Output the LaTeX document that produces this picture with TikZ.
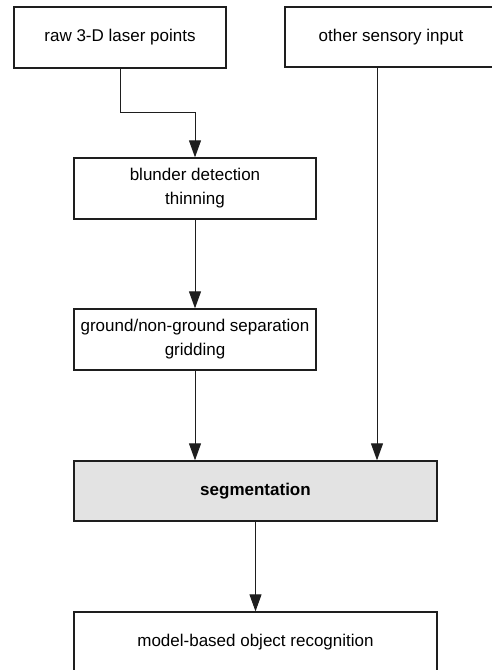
\documentclass[tikz,border=0pt]{standalone}
\usepackage{fontspec}
\setmainfont{Liberation Sans}
\usetikzlibrary{arrows.meta}
\definecolor{segfill}{HTML}{E3E3E3}
\definecolor{edge}{HTML}{1E1E1E}
\tikzset{
  box/.style={draw=edge, line width=1.3pt, rectangle, inner sep=0pt, align=center,
    font=\fontsize{17}{24}\selectfont},
  conn/.style={draw=edge, line width=1pt, -{Triangle[length=17pt,width=12pt]}},
  plain/.style={draw=edge, line width=1pt}
}
\begin{document}
\begin{tikzpicture}[x=1pt,y=-1pt]
\useasboundingbox (0,0) rectangle (492,670);
\clip (0,0) rectangle (492,670);
\fill[white] (0,0) rectangle (492,670);
\node[box, minimum width=212pt, minimum height=61pt] (raw) at (120,37.5) {raw 3-D laser points};
\node[box, minimum width=212pt, minimum height=60pt] (other) at (391,37) {other sensory input};
\node[box, minimum width=242pt, minimum height=61pt] (blunder) at (195,188.5) {blunder detection\\thinning};
\node[box, minimum width=242pt, minimum height=61pt] (ground) at (195,339.5) {ground/non-ground separation\\gridding};
\node[box, fill=segfill, minimum width=363pt, minimum height=60pt, font=\fontsize{17}{24}\selectfont\bfseries] (seg) at (255.5,491) {segmentation};
\node[box, minimum width=363pt, minimum height=61pt] (model) at (255.5,642.5) {model-based object recognition};
\coordinate (xo) at (377,0);
\coordinate (bend) at (0,112);
\draw[conn] (raw.south) -- (raw.south |- bend) -| (blunder.north);
\draw[conn] (blunder.south) -- (ground.north);
\draw[conn] (ground.south) -- (ground.south |- seg.north);
\draw[conn] (xo |- other.south) -- (xo |- seg.north);
\draw[conn] (seg.south) -- (model.north);
\end{tikzpicture}
\end{document}
